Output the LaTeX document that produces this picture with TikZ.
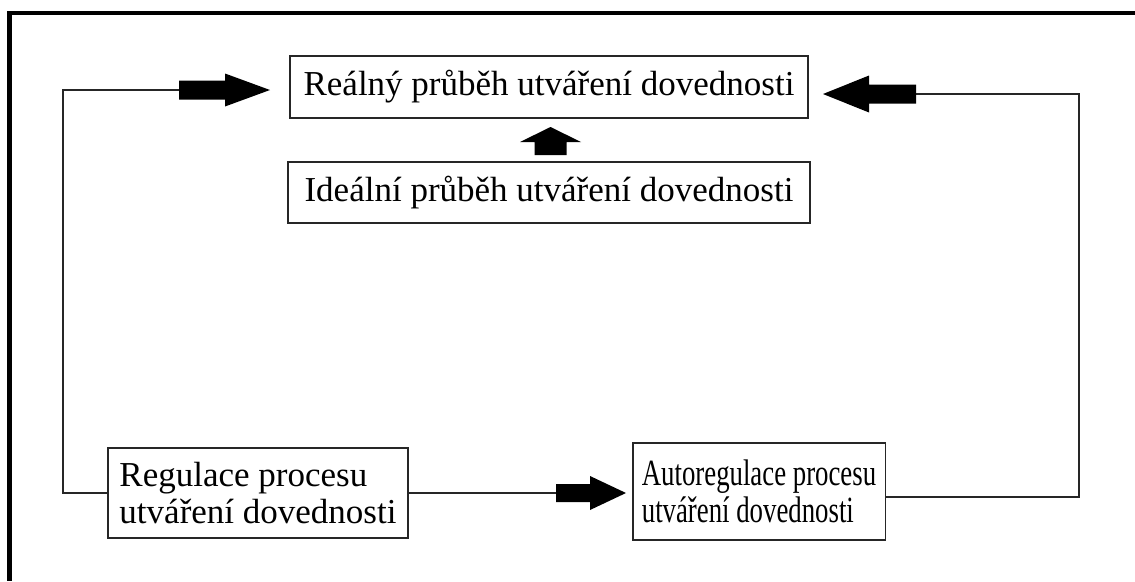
\documentclass[tikz,border=0pt]{standalone}
\usepackage{fontspec}
\setmainfont{Liberation Serif}
\newfontfamily\narrowserif[FakeStretch=0.724]{Liberation Serif}
\begin{document}
\begin{tikzpicture}[x=1pt,y=-1pt,
  box/.style={draw=black!85,line width=1.3pt,fill=white,inner sep=0pt,
    font=\fontsize{35}{37}\selectfont},
  conn/.style={draw=black!85,line width=1.3pt},
  frameline/.style={line width=4.6pt,black},
  pics/blockarrow/.style args={#1/#2/#3/#4}{code={
    \fill[black] (0,-#3) -- (#1,-#3) -- (#1,-#4) -- (#1+#2,0)
      -- (#1,#4) -- (#1,#3) -- (0,#3) -- cycle;}}]
\useasboundingbox (0,0) rectangle (1135,581);
% outer frame: top and left edges only
\draw[frameline] (1135,13) -- (9.5,13) -- (9.5,581);

% boxes
\node[box,minimum width=518pt,minimum height=62pt] (real) at (549,87)
  {Reálný průběh utváření dovednosti};
\node[box,minimum width=522pt,minimum height=61pt] (ideal) at (549,192.5)
  {Ideální průběh utváření dovednosti};
\node[box,minimum width=300pt,minimum height=90pt,align=left,inner xsep=11pt] (reg) at (258,493)
  {Regulace procesu\\utváření dovednosti};
\node[box,minimum width=252pt,minimum height=97pt,align=left,inner xsep=9pt,
  font=\narrowserif\fontsize{37}{37}\selectfont] (auto) at (759,491.5)
  {Autoregulace procesu\\utváření dovednosti};

% tails of the block arrows
\coordinate (lt) at (179,90);
\coordinate (rt) at (916,94);
\coordinate (bt) at (556,493);
\coordinate (ut) at (550.5,155);
\coordinate (lc) at (63,90);
\coordinate (rc) at (1079,94);

% connectors
\draw[conn] (reg.west) -| (lc) -- (lt);
\draw[conn] ([yshift=-5.5pt]auto.east) -| (rc) -- (rt);
\draw[conn] (reg.east) -- (bt);

% block arrows
\pic at (lt) {blockarrow={46/45/9.5/16.5}};
\pic[rotate=180] at (rt) {blockarrow={47/46/9.5/18.5}};
\pic at (bt) {blockarrow={34/36/9/17}};
\pic[rotate=90] at (ut) {blockarrow={13/15/16/30.5}};
\end{tikzpicture}
\end{document}
